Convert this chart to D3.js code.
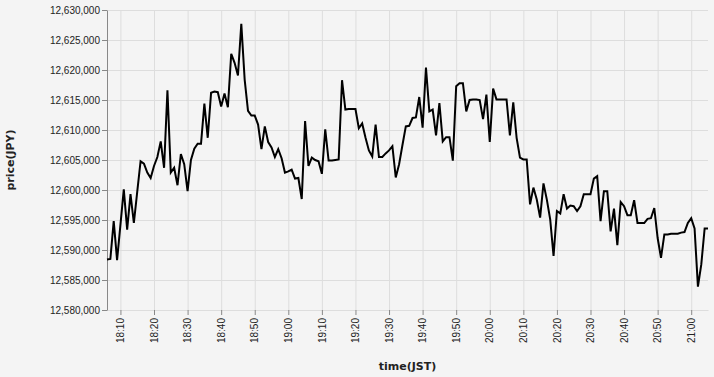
<!doctype html>
<html lang="en">

<head>
  <meta charset="utf-8">
  <title>price(JPY) - D3</title>
  <style>
    body { margin: 0; background: #f4f4f4; }
    svg { display: block; font-family: "DejaVu Sans", sans-serif; }
  </style>
</head>

<body>
  <svg></svg>

  <script src="https://cdn.jsdelivr.net/npm/d3@7/dist/d3.min.js"></script>
  <script>
    // one price per minute, 18:06 -> 21:05 (JST)
    var startTime = '2024-01-01T18:06:00';
    var prices = [
      12588400, 12588500, 12594800, 12588300, 12594200, 12600100, 12593400, 12599300, 12594500, 12599700,
      12604800, 12604400, 12602900, 12602000, 12604000, 12605500, 12608100, 12603700, 12616600, 12602900,
      12603700, 12600800, 12606000, 12604300, 12599800, 12605000, 12606900, 12607700, 12607700, 12614400,
      12608700, 12616200, 12616400, 12616300, 12613900, 12616100, 12613800, 12622700, 12621200, 12619100,
      12627700, 12618400, 12613200, 12612400, 12612400, 12610900, 12606800, 12610600, 12608000, 12607100,
      12605500, 12606800, 12605300, 12602900, 12603100, 12603400, 12601900, 12602000, 12598500, 12611500,
      12604000, 12605400, 12605000, 12604800, 12602700, 12610100, 12604900, 12604900, 12605000, 12605100,
      12618300, 12613400, 12613500, 12613500, 12613500, 12610300, 12611100, 12608700, 12606600, 12605600,
      12610900, 12605500, 12605500, 12606100, 12606600, 12607300, 12602100, 12604300, 12607500, 12610600,
      12610700, 12612000, 12612100, 12615500, 12610400, 12620400, 12613100, 12613400, 12609100, 12614500,
      12608100, 12608800, 12608800, 12604900, 12617300, 12617800, 12617800, 12613100, 12615000, 12615100,
      12615100, 12615000, 12611800, 12615900, 12608000, 12616900, 12615100, 12615100, 12615100, 12615100,
      12609100, 12614600, 12608700, 12605400, 12605100, 12605100, 12597600, 12600400, 12598400, 12595400,
      12601100, 12598400, 12595100, 12589000, 12596500, 12596100, 12599300, 12596900, 12597400, 12597300,
      12596500, 12597300, 12599300, 12599300, 12599300, 12601900, 12602300, 12594800, 12599800, 12599800,
      12593100, 12596900, 12590800, 12598000, 12597300, 12595800, 12595800, 12598300, 12594500, 12594500,
      12594500, 12595200, 12595300, 12597000, 12592000, 12588700, 12592600, 12592600, 12592700, 12592700,
      12592700, 12592900, 12593000, 12594500, 12595300, 12593600, 12583900, 12587600, 12593600, 12593600
    ];
    var yTicks = [12580000, 12585000, 12590000, 12595000, 12600000, 12605000,
      12610000, 12615000, 12620000, 12625000, 12630000];

    var t0 = new Date(startTime);
    var data = prices.map(function (p, i) {
      return { time: d3.timeMinute.offset(t0, i), price: p };
    });

    var width = 714;
    var height = 377;
    var margin = { top: 10, right: 6, bottom: 67, left: 107 };
    var w = width - margin.left - margin.right;
    var h = height - margin.top - margin.bottom;

    var svg = d3.select('svg')
      .attr('width', width)
      .attr('height', height);

    svg.append('rect')
      .attr('width', width)
      .attr('height', height)
      .attr('fill', '#f4f4f4');

    var g = svg.append('g')
      .attr('transform', 'translate(' + margin.left + ',' + margin.top + ')');

    var xScale = d3.scaleTime()
      .domain(d3.extent(data, function (d) { return d.time; }))
      .range([0, w]);
    var yScale = d3.scaleLinear()
      .domain([d3.min(yTicks), d3.max(yTicks)])
      .range([h, 0]);

    // grid
    g.append('g')
      .attr('class', 'grid')
      .call(d3.axisLeft(yScale).tickValues(yTicks).tickSize(-w).tickFormat(''))
      .call(function (s) { s.select('.domain').remove(); });
    g.append('g')
      .attr('class', 'grid')
      .attr('transform', 'translate(0,' + h + ')')
      .call(d3.axisBottom(xScale).ticks(d3.timeMinute.every(10)).tickSize(-h).tickFormat(''))
      .call(function (s) { s.select('.domain').remove(); });
    g.selectAll('.grid line').attr('stroke', '#ddd');

    // x axis
    var xAxis = g.append('g')
      .attr('transform', 'translate(0,' + h + ')')
      .call(d3.axisBottom(xScale)
        .ticks(d3.timeMinute.every(10))
        .tickFormat(d3.timeFormat('%H:%M'))
        .tickSize(5)
        .tickSizeOuter(0));
    xAxis.select('.domain').attr('stroke', '#ddd');
    xAxis.selectAll('.tick line').attr('stroke', '#888');
    xAxis.selectAll('.tick text')
      .attr('transform', 'rotate(-90)')
      .attr('text-anchor', 'end')
      .attr('x', -8)
      .attr('y', 0)
      .attr('dy', '0.32em')
      .attr('font-size', 10)
      .attr('fill', '#222');

    // y axis
    var yAxis = g.append('g')
      .call(d3.axisLeft(yScale)
        .tickValues(yTicks)
        .tickFormat(d3.format(','))
        .tickSize(5)
        .tickPadding(2)
        .tickSizeOuter(0));
    yAxis.select('.domain').attr('stroke', '#888');
    yAxis.selectAll('.tick line').attr('stroke', '#888');
    yAxis.selectAll('.tick text')
      .attr('font-size', 10)
      .attr('fill', '#222');

    // line
    g.append('path')
      .datum(data)
      .attr('fill', 'none')
      .attr('stroke', '#000')
      .attr('stroke-width', 2)
      .attr('d', d3.line()
        .x(function (d) { return xScale(d.time); })
        .y(function (d) { return yScale(d.price); }));

    // axis titles
    svg.append('text')
      .text('time(JST)')
      .attr('x', margin.left + w / 2)
      .attr('y', 370)
      .attr('text-anchor', 'middle')
      .attr('font-size', 11)
      .attr('font-weight', 'bold')
      .attr('fill', '#222');
    svg.append('text')
      .text('price(JPY)')
      .attr('transform', 'translate(14,' + (margin.top + h / 2) + ') rotate(-90)')
      .attr('text-anchor', 'middle')
      .attr('font-size', 11)
      .attr('font-weight', 'bold')
      .attr('fill', '#222');
  </script>
</body>

</html>
